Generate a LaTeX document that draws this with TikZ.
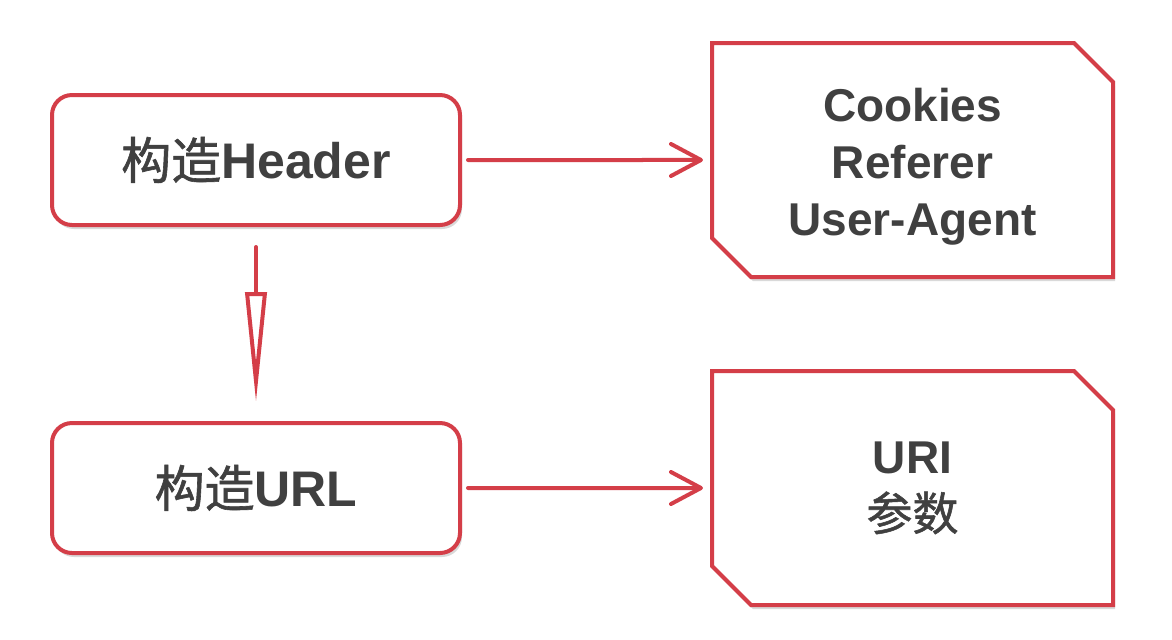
\documentclass[tikz,border=0pt]{standalone}
\usepackage{fontspec}
\setmainfont{Liberation Sans}
\newfontfamily\cjk[FakeBold=1.2]{Noto Sans CJK SC}
\usetikzlibrary{arrows.meta,shapes.misc,shadows}
\definecolor{boxred}{RGB}{212,62,72}
\definecolor{textgray}{RGB}{64,64,64}

\begin{document}
\begin{tikzpicture}[x=0.5pt, y=-0.5pt,
		soft shadow/.style={drop shadow={shadow xshift=1pt,shadow yshift=-2pt,opacity=.15,fill=black}},
		stepbox/.style={draw=boxred, line width=2pt, fill=white, rounded corners=10pt,
			minimum width=204pt, minimum height=65pt, text=textgray,
			font=\fontsize{25}{30}\selectfont\bfseries, soft shadow},
		infobox/.style={draw=boxred, line width=2pt, fill=white, chamfered rectangle,
			chamfered rectangle corners={north east,south west},
			chamfered rectangle xsep=9.75pt, chamfered rectangle ysep=9.75pt,
			minimum width=200.5pt, minimum height=117pt, align=center, text=textgray,
			font=\fontsize{23}{28.5}\selectfont\bfseries, soft shadow},
		link/.style={draw=boxred, line width=2pt, line cap=round,
			-{Straight Barb[length=15pt,width=16pt,round]}, shorten <=3pt, shorten >=3.5pt},
		flow/.style={draw=boxred, line width=2pt, line cap=round,
			-{Triangle[open,length=55pt,width=10.5pt]}, shorten <=10pt, shorten >=9.5pt}]
				\fill[white] (0,0) rectangle (1172,639);
				\useasboundingbox (0,0) rectangle (1172,639);
				
				\node[stepbox] (header) at (256,160) {{\cjk\mdseries 构造}Header};
				\node[stepbox] (url) at (256,488) {{\cjk\mdseries 构造}URL};
				\node[infobox] (hdrinfo) at (912.5,160) {\\[-5pt]Cookies\\Referer\\User-Agent};
				\node[infobox] (urlinfo) at (912.5,488) {URI\\{\cjk\mdseries 参数}};
				
				\draw[link] (header) -- (hdrinfo);
				\draw[link] (url) -- (urlinfo);
				\draw[flow] (header) -- (url);
			\end{tikzpicture}
\end{document}
